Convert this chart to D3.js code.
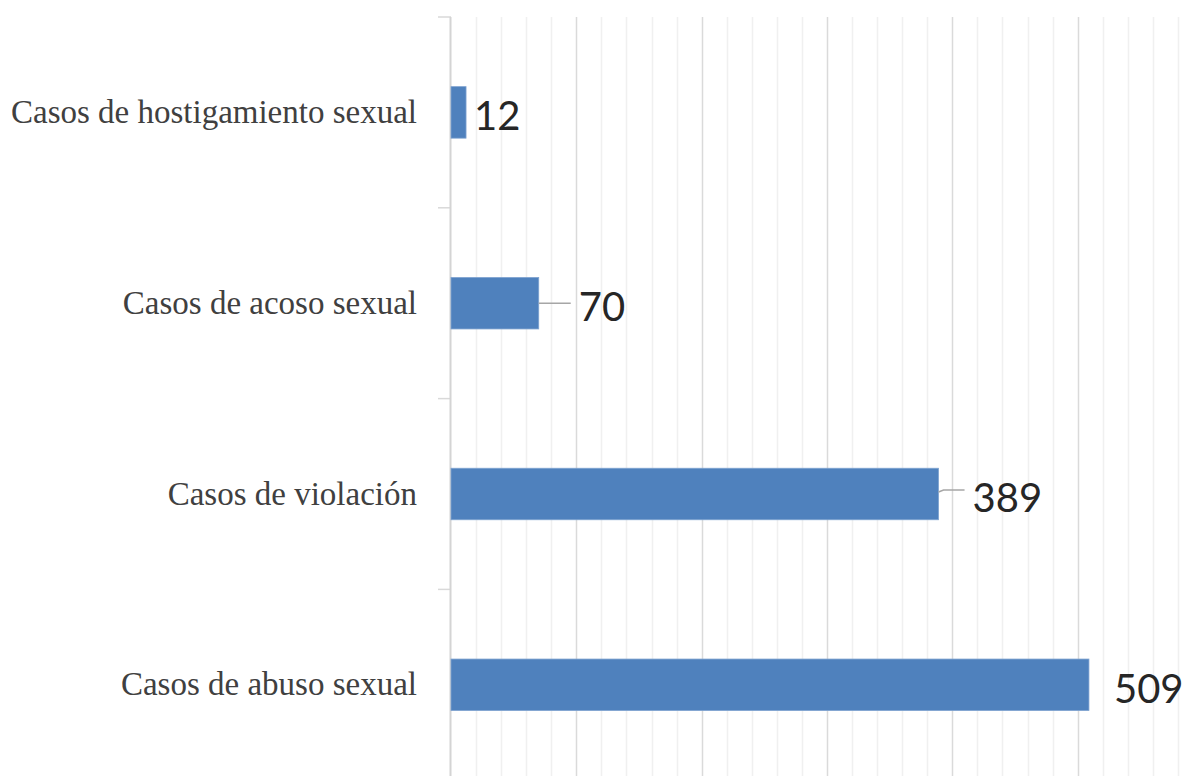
<!DOCTYPE html>
<html>
<head>
<meta charset="utf-8">
<script src="https://cdnjs.cloudflare.com/ajax/libs/d3/7.8.5/d3.min.js"></script>
<style>
  body { margin: 0; background: #fff; }
  svg { display: block; }
</style>
</head>
<body>
<svg id="chart"></svg>
<script>
// data
var categories = ["Casos de hostigamiento sexual", "Casos de acoso sexual", "Casos de violación", "Casos de abuso sexual"];
var values = [12, 70, 389, 509];
var xTicks = d3.range(0, 601, 20);   // light grid every 20, darker every 100

// how far each value label sits from its bar end (labels were dragged by hand)
var labelGap = [8, 40, 34, 25];

var W = 1197, H = 776;
var margin = {top: 17, left: 451};

var svg = d3.select("#chart")
    .attr("width", W)
    .attr("height", H);

var x = d3.scaleLinear()
    .domain([0, 600])
    .range([margin.left, margin.left + 752]);

var y = d3.scaleBand()
    .domain(categories)
    .range([margin.top, margin.top + 4 * 190.8])
    .paddingInner(0.73)
    .paddingOuter(0.365);

// vertical grid
svg.append("g")
    .selectAll("line")
    .data(xTicks.slice(1))
  .enter().append("line")
    .attr("x1", function(d) { return Math.round(x(d)) + 0.5; })
    .attr("x2", function(d) { return Math.round(x(d)) + 0.5; })
    .attr("y1", margin.top)
    .attr("y2", H + 10)
    .attr("stroke", function(d) { return d % 100 == 0 ? "#dadada" : "#f0f0f0"; })
    .attr("stroke-width", 1.5);

// category axis (ticks between bands, Excel style)
var yAxis = d3.axisLeft(y).tickSize(0).tickPadding(34);
var gy = svg.append("g")
    .attr("transform", "translate(" + margin.left + ",0)")
    .call(yAxis);
gy.select(".domain").remove();
gy.selectAll("text")
    .attr("font-family", "'Liberation Serif', 'DejaVu Serif', serif")
    .attr("font-size", 33)
    .attr("fill", "#404040")
    .attr("dy", "0.32em");

var bounds = d3.range(0, categories.length + 1).map(function(i) { return margin.top + i * y.step(); });
svg.append("g")
    .selectAll("line")
    .data(bounds)
  .enter().append("line")
    .attr("x1", margin.left - 13)
    .attr("x2", margin.left)
    .attr("y1", function(d) { return d; })
    .attr("y2", function(d) { return d; })
    .attr("stroke", "#d9d9d9")
    .attr("stroke-width", 1.5);

svg.append("line")
    .attr("x1", margin.left - 0.5).attr("x2", margin.left - 0.5)
    .attr("y1", margin.top).attr("y2", H + 10)
    .attr("stroke", "#d4d4d4")
    .attr("stroke-width", 2);

// bars
svg.append("g")
    .selectAll("rect")
    .data(values)
  .enter().append("rect")
    .attr("x", x(0))
    .attr("y", function(d, i) { return y(categories[i]); })
    .attr("width", function(d) { return x(d) - x(0); })
    .attr("height", y.bandwidth())
    .attr("fill", "#4f81bd")
    .attr("stroke", "#7fa3d0")
    .attr("stroke-width", 0.8);

// leader lines for the labels pulled away from their bars
var leaders = svg.append("g");
values.forEach(function(d, i) {
    var cy = y(categories[i]) + y.bandwidth() / 2;
    if (labelGap[i] > 30) {
        var x0 = x(d), x1 = x(d) + labelGap[i] - 8;
        leaders.append("path")
            .attr("d", d3.line()([[x0, cy + (i == 2 ? -2 : 0)], [x0 + 5, cy - 4 + (i == 2 ? 0 : 4)], [x1, cy - 4 + (i == 2 ? 0 : 4)]]))
            .attr("fill", "none")
            .attr("stroke", "#a6a6a6")
            .attr("stroke-width", 1.5);
    }
});

// value labels
svg.append("g")
    .selectAll("text")
    .data(values)
  .enter().append("text")
    .attr("x", function(d, i) { return x(d) + labelGap[i]; })
    .attr("y", function(d, i) { return y(categories[i]) + y.bandwidth() / 2 + 4; })
    .attr("dy", "0.35em")
    .attr("font-family", "Lato, 'Open Sans', sans-serif")
    .attr("font-size", 40)
    .attr("fill", "#262626")
    .text(function(d) { return d; });
</script>
</body>
</html>
